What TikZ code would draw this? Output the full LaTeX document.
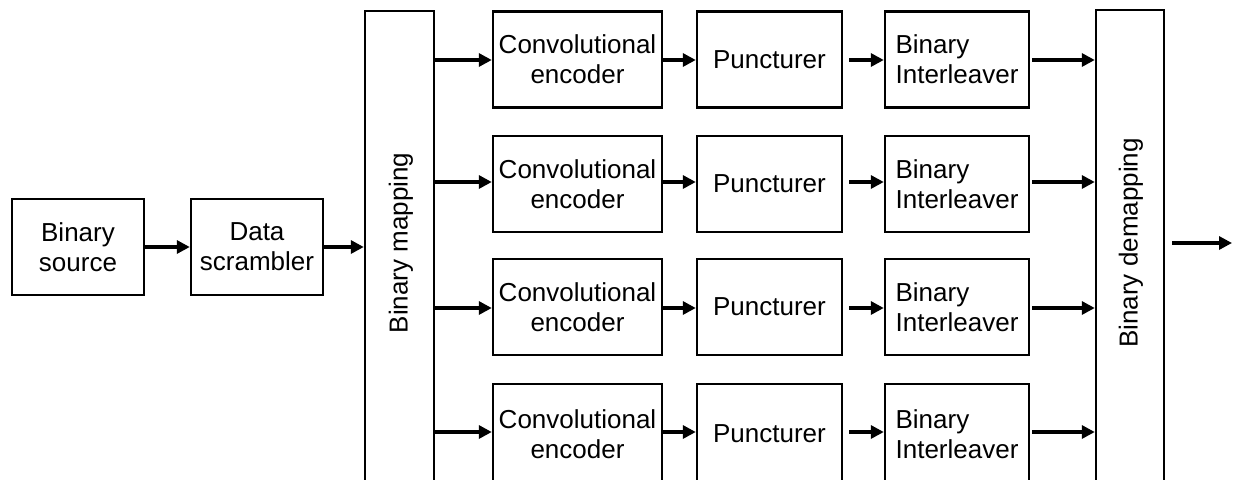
\documentclass[tikz,border=0pt]{standalone}
\usepackage{fontspec}
\setmainfont{Liberation Sans}
\usetikzlibrary{arrows.meta}
\begin{document}
\begin{tikzpicture}[x=1pt,y=-1pt,
  blk/.style={draw,line width=2.4pt,rectangle,inner sep=0pt,align=center,
    font=\fontsize{26}{30}\selectfont},
  arr/.style={line width=3.2pt,-{Triangle[length=13pt,width=13pt]}}]
\clip (0,0) rectangle (1233,479);
\fill[white] (0,0) rectangle (1233,479);
% left chain
\node[blk,minimum width=132pt,minimum height=96pt] (src) at (78,247) {Binary\\source};
\node[blk,minimum width=132pt,minimum height=96pt] (scr) at (257,247) {Data\\scrambler};
% tall boxes
\node[blk,minimum width=69pt,minimum height=471pt] (map) at (399.5,246.5) {};
\node[rotate=90,font=\fontsize{26}{30}\selectfont] (maplbl) at (401,243) {Binary mapping};
\node[blk,minimum width=68pt,minimum height=472pt] (demap) at (1130,246) {};
\node[rotate=90,font=\fontsize{26}{30}\selectfont] (demaplbl) at (1131,243) {Binary demapping};
% rows
\foreach \k/\cy/\h in {1/59.5/96, 2/184/96, 3/307/96, 4/434/100}{
  \node[blk,minimum width=169pt,minimum height=\h pt] (c\k) at (577.5,\cy) {Convolutional\\encoder};
  \node[blk,minimum width=145pt,minimum height=\h pt] (p\k) at (769.5,\cy) {Puncturer};
  \node[blk,minimum width=144pt,minimum height=\h pt,align=left] (i\k) at (957,\cy) {Binary\\Interleaver};
}
% connectors
\draw[arr] (src.east) -- (scr.west);
\draw[arr] (scr.east) -- (scr.east -| map.west);
\foreach \k/\ay in {1/60, 2/182, 3/308, 4/432}{
  \coordinate (a\k) at (435,\ay);
  \coordinate (b\k) at (849,\ay);
  \coordinate (d\k) at (1032,\ay);
  \draw[arr] (a\k) -- (a\k -| c\k.west);
  \draw[arr] (c\k.east |- a\k) -- (a\k -| p\k.west);
  \draw[arr] (b\k) -- (b\k -| i\k.west);
  \draw[arr] (d\k) -- (d\k -| demap.west);
}
\coordinate (o1) at (1172,243);
\coordinate (o2) at (1232,243);
\draw[arr] (o1) -- (o2);
\end{tikzpicture}
\end{document}
